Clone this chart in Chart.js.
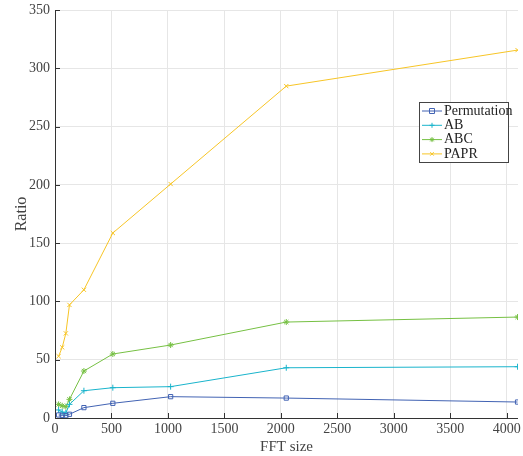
<!DOCTYPE html>
<html>
<head>
<meta charset="utf-8">
<script src="https://cdn.jsdelivr.net/npm/chart.js@4/dist/chart.umd.min.js"></script>
<style>
  body { margin: 0; background: #fff; }
  #wrap { width: 523px; height: 456px; }
</style>
</head>
<body>
<div id="wrap"><canvas id="myChart" width="523" height="456"></canvas></div>
<script>
// values
const fftSizes = [32, 64, 96, 128, 256, 512, 1024, 2048, 4096];
const permutation = [2.6, 2.3, 2.0, 3.2, 8.9, 12.6, 18.3, 17.1, 13.7];
const ab = [6.9, 5.1, 4.3, 11.7, 23.4, 26.0, 26.9, 43.1, 44.0];
const abc = [11.7, 10.5, 9.7, 16.0, 40.3, 54.9, 62.6, 82.3, 86.6];
const papr = [53.0, 60.6, 72.6, 97.0, 110.0, 158.7, 200.7, 284.7, 315.6];
const xTicks = [0, 500, 1000, 1500, 2000, 2500, 3000, 3500, 4000];
const yTicks = [0, 50, 100, 150, 200, 250, 300, 350];

const serif = 'Liberation Serif';

const toPoints = (vals) => vals.map((v, i) => ({ x: fftSizes[i], y: v }));

const makeSet = (label, vals, color, style) => ({
  label: label,
  data: toPoints(vals),
  borderColor: color,
  backgroundColor: color,
  borderWidth: 1,
  pointStyle: style,
  pointRadius: 3,
  pointBorderWidth: 1,
  pointBackgroundColor: 'rgba(0,0,0,0)',
  pointBorderColor: color,
  tension: 0
});

const data = {
  datasets: [
    makeSet('Permutation', permutation, '#4263b3', 'rect'),
    makeSet('AB', ab, '#19b4cc', 'cross'),
    makeSet('ABC', abc, '#76c043', 'star'),
    makeSet('PAPR', papr, '#f7c526', 'crossRot')
  ]
};

// inward tick marks, matlab style
const tickMarks = {
  id: 'tickMarks',
  afterDraw(chart) {
    const ctx = chart.ctx;
    const a = chart.chartArea;
    const xs = chart.scales.x, ys = chart.scales.y;
    ctx.save();
    ctx.strokeStyle = '#333';
    ctx.lineWidth = 1;
    ctx.beginPath();
    ctx.moveTo(a.left + 0.5, a.top);
    ctx.lineTo(a.left + 0.5, a.bottom + 0.5);
    ctx.lineTo(a.right, a.bottom + 0.5);
    yTicks.forEach(t => {
      const y = Math.round(ys.getPixelForValue(t)) + 0.5;
      ctx.moveTo(a.left, y);
      ctx.lineTo(a.left + 5, y);
    });
    xTicks.forEach(t => {
      const x = Math.round(xs.getPixelForValue(t)) + 0.5;
      ctx.moveTo(x, a.bottom);
      ctx.lineTo(x, a.bottom - 5);
    });
    ctx.stroke();
    ctx.restore();
  }
};

function drawMarker(ctx, style, x, y, r) {
  ctx.beginPath();
  if (style === 'rect') {
    ctx.rect(x - r, y - r, 2 * r, 2 * r);
  } else if (style === 'cross') {
    ctx.moveTo(x - r, y); ctx.lineTo(x + r, y);
    ctx.moveTo(x, y - r); ctx.lineTo(x, y + r);
  } else if (style === 'star') {
    ctx.moveTo(x - r, y); ctx.lineTo(x + r, y);
    ctx.moveTo(x, y - r); ctx.lineTo(x, y + r);
    ctx.moveTo(x - r * 0.7, y - r * 0.7); ctx.lineTo(x + r * 0.7, y + r * 0.7);
    ctx.moveTo(x - r * 0.7, y + r * 0.7); ctx.lineTo(x + r * 0.7, y - r * 0.7);
  } else {
    ctx.moveTo(x - r * 0.7, y - r * 0.7); ctx.lineTo(x + r * 0.7, y + r * 0.7);
    ctx.moveTo(x - r * 0.7, y + r * 0.7); ctx.lineTo(x + r * 0.7, y - r * 0.7);
  }
  ctx.stroke();
}

// boxed legend inside the plot
const boxLegend = {
  id: 'boxLegend',
  afterDraw(chart) {
    const ctx = chart.ctx;
    const bx = 419, by = 102, bw = 89, bh = 60;
    ctx.save();
    ctx.fillStyle = '#fff';
    ctx.fillRect(bx, by, bw, bh);
    ctx.strokeStyle = '#444';
    ctx.lineWidth = 1;
    ctx.strokeRect(bx + 0.5, by + 0.5, bw, bh);
    ctx.font = '14px ' + serif;
    ctx.textBaseline = 'middle';
    chart.data.datasets.forEach((ds, i) => {
      const y = by + 9 + i * 14.3;
      ctx.strokeStyle = ds.borderColor;
      ctx.lineWidth = 1;
      ctx.beginPath();
      ctx.moveTo(bx + 3, y);
      ctx.lineTo(bx + 23, y);
      ctx.stroke();
      drawMarker(ctx, ds.pointStyle, bx + 13, y, 2.5);
      ctx.fillStyle = '#222';
      ctx.fillText(ds.label, bx + 25, y);
    });
    ctx.restore();
  }
};

const config = {
  type: 'line',
  data: data,
  options: {
    responsive: false,
    animation: false,
    devicePixelRatio: 1,
    layout: { padding: { top: 10, right: 1, left: 0, bottom: 0 } },
    plugins: {
      legend: { display: false },
      tooltip: { enabled: false }
    },
    scales: {
      x: {
        type: 'linear',
        min: 0,
        max: 4100,
        afterBuildTicks: (s) => { s.ticks = xTicks.map(v => ({ value: v })); },
        afterFit: (s) => { s.height = 38; s.paddingLeft = 0; s.paddingRight = 0; },
        grid: { color: '#e6e6e6', drawTicks: false },
        border: { display: false },
        ticks: { color: '#444', font: { family: serif, size: 14 }, padding: 3, maxRotation: 0, callback: (v) => String(v) },
        title: { display: true, text: 'FFT size', color: '#444', font: { family: serif, size: 15 }, padding: { top: 0, bottom: 0 } }
      },
      y: {
        min: 0,
        max: 350,
        afterBuildTicks: (s) => { s.ticks = yTicks.map(v => ({ value: v })); },
        afterFit: (s) => { s.width = 55; s.paddingTop = 0; s.paddingBottom = 0; },
        grid: { color: '#e6e6e6', drawTicks: false },
        border: { display: false },
        ticks: { color: '#444', font: { family: serif, size: 14 }, padding: 5, callback: (v) => String(v) },
        title: { display: true, text: 'Ratio', color: '#444', font: { family: serif, size: 16 }, padding: { top: 12, bottom: 0 } }
      }
    }
  },
  plugins: [tickMarks, boxLegend]
};

const myChart = new Chart(document.getElementById('myChart'), config);
</script>
</body>
</html>
